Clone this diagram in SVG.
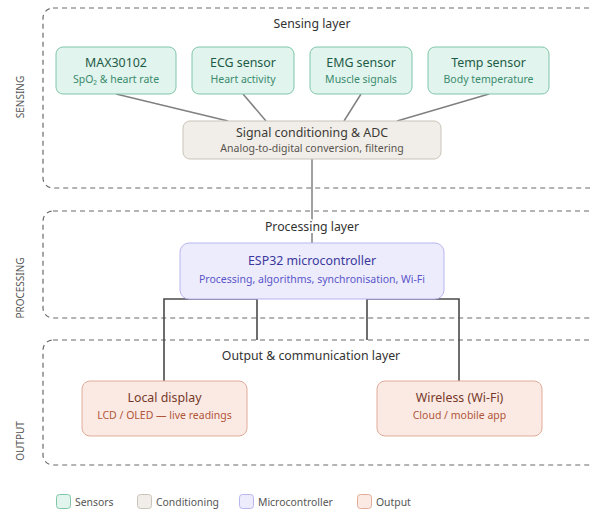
<svg xmlns="http://www.w3.org/2000/svg" width="590" height="511" viewBox="0 0 590 511">
<style>
text{font-family:"Noto Sans","Open Sans","Liberation Sans",sans-serif}
.layer{fill:none;stroke:#6a6a6a;stroke-width:1.2;stroke-dasharray:5 4}
.ltitle{font-size:12.3px;fill:#333;text-anchor:middle}
.side{font-size:10px;fill:#555;text-anchor:middle}
.t{font-size:12.4px;text-anchor:middle}
.s{font-size:10.5px;text-anchor:middle}
.sen rect{fill:#e1f4ed;stroke:#7fc6a9;stroke-width:1}
.sen .t{fill:#1e5b47}.sen .s{fill:#3b8b6d}
.con rect{fill:#f1eee9;stroke:#c9c3b9;stroke-width:1}
.con .t{fill:#3d3a36}.con .s{fill:#58544e}
.mcu rect{fill:#ececfc;stroke:#b8b5ef;stroke-width:1}
.mcu .t{fill:#3b379c}.mcu .s{fill:#5b55c9}
.out rect{fill:#fbeae4;stroke:#e1ac99;stroke-width:1}
.out .t{fill:#77392a}.out .s{fill:#b0563b}
.c1{fill:none;stroke:#808080;stroke-width:1.5}
.c2{fill:none;stroke:#4a4a4a;stroke-width:1.6}
.leg{font-size:10.4px;fill:#555}
</style>
<g id="layers">
<rect class="layer" x="43" y="8" width="580" height="180" rx="10"/>
<rect class="layer" x="43" y="211" width="580" height="107" rx="10"/>
<rect class="layer" x="43" y="340" width="580" height="125" rx="10"/>
<text class="side" transform="translate(24,97) rotate(-90)">SENSING</text>
<text class="side" transform="translate(24,288) rotate(-90)">PROCESSING</text>
<text class="side" transform="translate(24,441) rotate(-90)">OUTPUT</text>
</g>
<g id="connectors">
<path class="c1" d="M116,94 L228,121"/>
<path class="c1" d="M243,94 L266,121"/>
<path class="c1" d="M361,94 L344,121"/>
<path class="c1" d="M489,94 L397,121"/>
<path class="c1" d="M312,159 V243"/>
<path class="c2" d="M257,340 V299 H164 V381"/>
<path class="c2" d="M367,340 V299 H459 V381"/>
</g>
<g id="layer-titles">
<text class="ltitle" x="312" y="28">Sensing layer</text>
<text class="ltitle" x="312" y="231" stroke="#fff" stroke-width="4" paint-order="stroke">Processing layer</text>
<text class="ltitle" x="311" y="360">Output &amp; communication layer</text>
</g>
<g id="max30102" class="sen"><rect x="56" y="47" width="120" height="47" rx="7"/><text class="t" x="116" y="67">MAX30102</text><text class="s" x="116" y="83">SpO₂ &amp; heart rate</text></g>
<g id="ecg" class="sen"><rect x="192" y="47" width="102" height="47" rx="7"/><text class="t" x="243" y="67">ECG sensor</text><text class="s" x="243" y="83">Heart activity</text></g>
<g id="emg" class="sen"><rect x="310" y="47" width="102" height="47" rx="7"/><text class="t" x="361" y="67">EMG sensor</text><text class="s" x="361" y="83">Muscle signals</text></g>
<g id="temp" class="sen"><rect x="428" y="47" width="121" height="47" rx="7"/><text class="t" x="488.5" y="67">Temp sensor</text><text class="s" x="488.5" y="83">Body temperature</text></g>
<g id="adc" class="con"><rect x="183" y="121" width="258" height="38" rx="7"/><text class="t" x="312" y="137">Signal conditioning &amp; ADC</text><text class="s" x="312" y="152">Analog-to-digital conversion, filtering</text></g>
<g id="esp32" class="mcu"><rect x="180" y="243" width="264" height="56" rx="9"/><text class="t" x="312" y="265">ESP32 microcontroller</text><text class="s" x="312" y="283">Processing, algorithms, synchronisation, Wi-Fi</text></g>
<g id="display" class="out"><rect x="82" y="381" width="165" height="55" rx="8"/><text class="t" x="164.5" y="402">Local display</text><text class="s" x="164.5" y="419">LCD / OLED — live readings</text></g>
<g id="wireless" class="out"><rect x="377" y="381" width="165" height="55" rx="8"/><text class="t" x="459.5" y="402">Wireless (Wi-Fi)</text><text class="s" x="459.5" y="419">Cloud / mobile app</text></g>
<g id="legend">
<rect x="56.5" y="494.5" width="14" height="14" rx="3" fill="#e1f4ed" stroke="#7fc6a9"/>
<text class="leg" x="75" y="506">Sensors</text>
<rect x="137.5" y="494.5" width="14" height="14" rx="3" fill="#f1eee9" stroke="#c9c3b9"/>
<text class="leg" x="156" y="506">Conditioning</text>
<rect x="239.5" y="494.5" width="14" height="14" rx="3" fill="#ececfc" stroke="#b8b5ef"/>
<text class="leg" x="258" y="506">Microcontroller</text>
<rect x="357.5" y="494.5" width="14" height="14" rx="3" fill="#fbeae4" stroke="#e1ac99"/>
<text class="leg" x="376" y="506">Output</text>
</g>
</svg>
